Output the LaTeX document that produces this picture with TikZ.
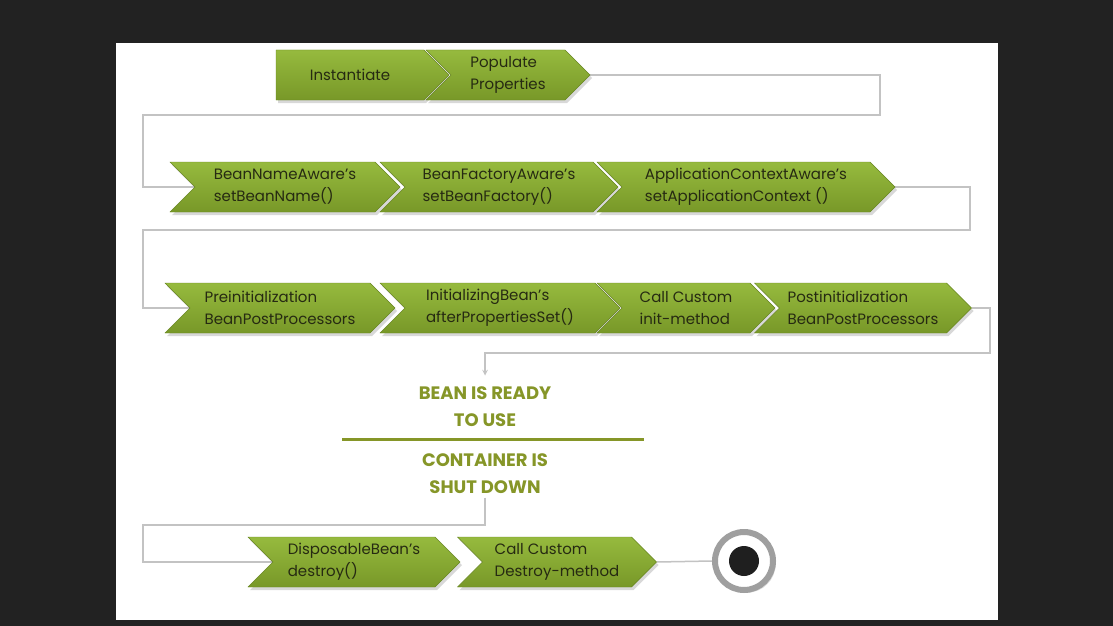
\documentclass[tikz,border=0pt]{standalone}
\usepackage{fontspec}
\setmainfont{Poppins}
\usetikzlibrary{shapes.symbols, arrows, positioning, shadows, backgrounds, calc}
\definecolor{beangreen}{RGB}{150,186,62}
\definecolor{beangreendk}{RGB}{120,152,40}
\definecolor{beanedge}{RGB}{104,134,34}
\definecolor{beantext}{RGB}{38,42,18}
\definecolor{olivehead}{RGB}{134,150,40}
\definecolor{linegray}{RGB}{195,195,195}
\definecolor{screen}{RGB}{34,34,34}
\tikzset{
    chevron/.style = {signal, signal to=east, signal from=west, signal pointer angle=90, minimum height=50pt, inner sep=2pt, draw=beanedge, top color=beangreen, bottom color=beangreendk, text=beantext, align=left, font=\fontsize{15}{22}\selectfont, drop shadow={opacity=0.3, shadow xshift=2pt, shadow yshift=-3pt}},
    firstchevron/.style = {chevron, signal from=nowhere},
    heading/.style = {align=center, text=olivehead, font=\bfseries\fontsize{18}{27}\selectfont},
    conn/.style = {draw=linegray, line width=1.5pt},
    arrow/.style = {conn, ->, >=stealth}
}

\begin{document}
\begin{tikzpicture}[x=1pt, y=-1pt]
\useasboundingbox (0,0) rectangle (1113,626);

% --- CREATION ---
\node (inst) [firstchevron, minimum width=173pt] at (350,75) {Instantiate};
\node (pop) [chevron, minimum width=164pt] at (508,75) {Populate\\Properties};

% --- AWARE INTERFACES ---
\node (bna) [chevron, minimum width=230pt] at (285,187) {BeanNameAware's\\setBeanName()};
\node (bfa) [chevron, minimum width=238pt] at (499,187) {BeanFactoryAware's\\setBeanFactory()};
\node (aca) [chevron, minimum width=298pt] at (746,187) {ApplicationContextAware's\\setApplicationContext ()};

% --- INITIALIZATION ---
\node (pre) [chevron, minimum width=230pt] at (280,308) {Preinitialization\\BeanPostProcessors};
\node (ibn) [chevron, minimum width=240pt] at (500,308) {InitializingBean's\\afterPropertiesSet()};
\node (cim) [chevron, minimum width=178pt] at (686,308) {Call Custom\\init-method};
\node (post) [chevron, minimum width=217pt] at (863,308) {Postinitialization\\BeanPostProcessors};

% --- READY / SHUTDOWN ---
\node (ready) [heading] at (485,407) {BEAN IS READY\\TO USE};
\node (shut) [heading] at (485,474) {CONTAINER IS\\SHUT DOWN};
\coordinate (sepL) at (342,439);
\coordinate (sepR) at (644,439);
\draw [olivehead, line width=3pt] (sepL) -- (sepR);

% --- DESTRUCTION ---
\node (dbd) [chevron, minimum width=212pt] at (354,562) {DisposableBean's\\destroy()};
\node (cdm) [chevron, minimum width=199pt] at (557,562) {Call Custom\\Destroy-method};
\node (finish) [circle, draw=gray!75, line width=6pt, fill=white, minimum size=58pt, drop shadow={opacity=0.3}] at (744,561) {};
\node (dot) [circle, fill=black!88, minimum size=30pt] at (finish) {};

% --- CONNECTIONS ---
\coordinate (turnA) at (880,115);
\coordinate (turnB) at (143,115);
\coordinate (turnC) at (970,230);
\coordinate (turnD) at (143,230);
\coordinate (turnE) at (990,353);
\coordinate (turnF) at (485,353);
\coordinate (turnG) at (485,525);
\coordinate (turnH) at (143,525);

\begin{scope}[on background layer]
    \fill [screen] (0,0) rectangle (1113,626);
    \fill [white] (116,43) rectangle (998,620);
    \draw [conn] (pop.east) -| (turnA) -- (turnB) |- (bna.west);
    \draw [conn] (aca.east) -| (turnC) -- (turnD) |- (pre.west);
    \draw [arrow, shorten >=8pt] (post.east) -| (turnE) -- (turnF) -- (ready.north);
    \draw [conn] (shut.south) -- (turnG) -- (turnH) |- (dbd.west);
    \draw [conn] (cdm.east) -- (finish.west);
\end{scope}

\end{tikzpicture}
\end{document}
